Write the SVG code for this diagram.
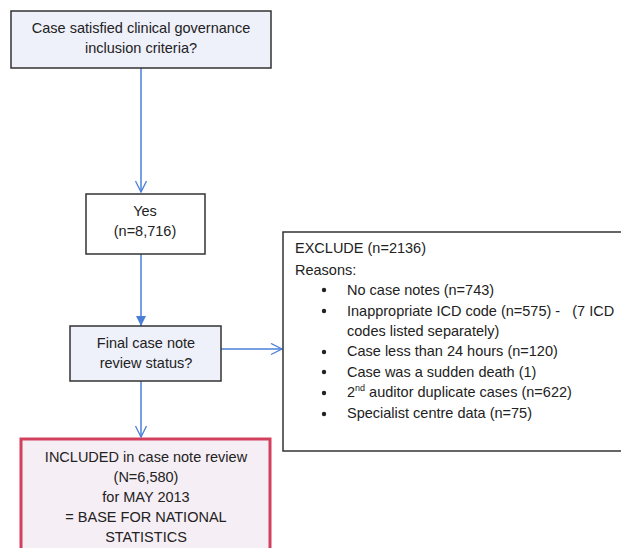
<svg xmlns="http://www.w3.org/2000/svg" width="621" height="548" viewBox="0 0 621 548">
<defs>
<marker id="open" markerWidth="14" markerHeight="14" refX="12" refY="6" orient="auto" markerUnits="userSpaceOnUse">
<path d="M1,0.5 L12,6 L1,11.5" fill="none" stroke="#4a7fd8" stroke-width="1.3"/>
</marker>
<marker id="solid" markerWidth="12" markerHeight="12" refX="10" refY="5" orient="auto" markerUnits="userSpaceOnUse">
<path d="M0,0 L10,5 L0,10 Z" fill="#4a7fd8"/>
</marker>
</defs>
<style>
text{font-family:"Liberation Sans",Arial,sans-serif;font-size:14.5px;fill:#222;}
.c{text-anchor:middle;}
.box{stroke:#333;stroke-width:1.5;}
.q{fill:#eef0fa;}
.line{stroke:#4a7fd8;stroke-width:1.5;fill:none;}
</style>
<rect width="621" height="548" fill="#ffffff"/>
<g id="connectors">
<line class="line" x1="141" y1="68" x2="141" y2="192" marker-end="url(#open)"/>
<line class="line" x1="141" y1="254" x2="141" y2="326" marker-end="url(#solid)"/>
<line class="line" x1="221" y1="349" x2="282" y2="349" marker-end="url(#open)"/>
<line class="line" x1="141" y1="381" x2="141" y2="437" marker-end="url(#open)"/>
</g>
<g id="criteria">
<rect class="box q" x="11" y="11" width="260" height="57"/>
<text class="c" x="141" y="33">Case satisfied clinical governance</text>
<text class="c" x="141" y="53">inclusion criteria?</text>
</g>
<g id="yes">
<rect class="box" x="86" y="194" width="119" height="60" fill="#ffffff"/>
<text class="c" x="145" y="216">Yes</text>
<text class="c" x="145" y="236">(n=8,716)</text>
</g>
<g id="final">
<rect class="box q" x="70" y="326" width="151" height="55"/>
<text class="c" x="146" y="348">Final case note</text>
<text class="c" x="146" y="368">review status?</text>
</g>
<g id="exclude">
<rect class="box" x="283" y="232" width="350" height="219" fill="#ffffff"/>
<text x="295" y="253">EXCLUDE (n=2136)</text>
<text x="295" y="275">Reasons:</text>
<g fill="#222">
<circle cx="324" cy="290" r="2.2"/>
<circle cx="324" cy="311" r="2.2"/>
<circle cx="324" cy="352" r="2.2"/>
<circle cx="324" cy="372" r="2.2"/>
<circle cx="324" cy="393" r="2.2"/>
<circle cx="324" cy="414" r="2.2"/>
</g>
<text x="347" y="295">No case notes (n=743)</text>
<text x="347" y="316" xml:space="preserve">Inappropriate ICD code (n=575) -   (7 ICD</text>
<text x="347" y="336">codes listed separately)</text>
<text x="347" y="356">Case less than 24 hours (n=120)</text>
<text x="347" y="377">Case was a sudden death (1)</text>
<text x="347" y="397">2<tspan font-size="9" dy="-6">nd</tspan><tspan dy="6"> auditor duplicate cases (n=622)</tspan></text>
<text x="347" y="418">Specialist centre data (n=75)</text>
</g>
<g id="included">
<rect x="21" y="439" width="249" height="125" fill="#f6eef5" stroke="#d2405e" stroke-width="3"/>
<text class="c" x="146" y="462">INCLUDED in case note review</text>
<text class="c" x="146" y="482">(N=6,580)</text>
<text class="c" x="146" y="502">for MAY 2013</text>
<text class="c" x="146" y="522">= BASE FOR NATIONAL</text>
<text class="c" x="146" y="542">STATISTICS</text>
</g>
</svg>
